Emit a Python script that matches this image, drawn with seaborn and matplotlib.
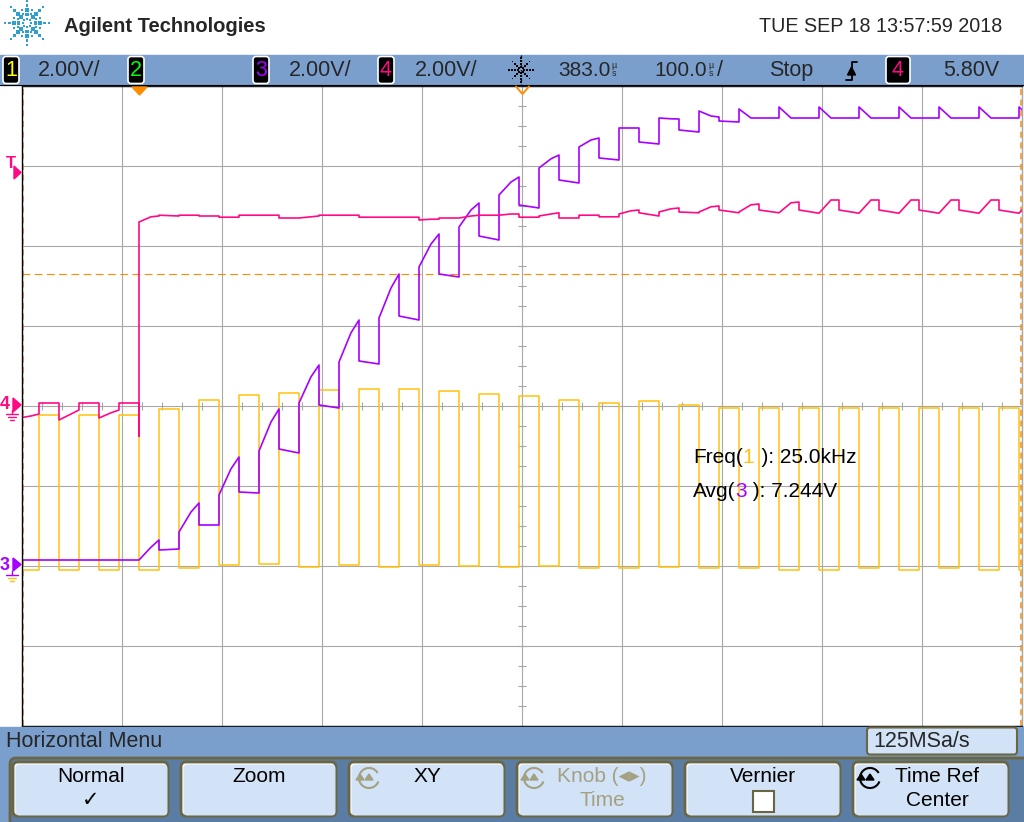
import numpy as np
import pandas as pd
import matplotlib
matplotlib.use("Agg")
import matplotlib.pyplot as plt
import seaborn as sns
from matplotlib import font_manager
from matplotlib.patches import FancyBboxPatch, Rectangle, Polygon, Arc

# ---------------- values ----------------
# start of every 40 us clock period (falling edge of channel 1), us after trigger
period_start_us = [-120, -80, -40, 0, 40, 80, 120, 160, 200, 240, 280, 320, 360,
                   400, 440, 480, 520, 560, 600, 640, 680, 720, 760, 800, 840, 880]

# channel 1 (yellow), volts: level while low, level while high
ch1_low = [0.0, 0.0, 0.0, 0.0, 0.05, 0.12, 0.15, 0.08, 0.12, 0.08, 0.12, 0.1, 0.08,
           0.1, 0.05, 0.05, 0.08, 0.05, 0.05, 0.0, 0.0, 0.05, 0.0, 0.05, 0.0, 0.0]
ch1_high = [3.875, 3.875, 3.875, 4.03, 4.25, 4.375, 4.43, 4.5, 4.53, 4.53, 4.48, 4.4, 4.35,
            4.25, 4.18, 4.22, 4.13, 4.05, 4.05, 4.05, 4.05, 4.05, 4.05, 4.05, 4.05, 4.05]

# channel 3 (purple), volts: after jump, 12 us later, top of ramp, after drop, end of hold
ch3_jump = [0.1, 0.1, 0.1, 0.1, 0.8, 1.725, 2.825, 4.025, 5.05, 6.15, 7.425, 8.425, 9.225,
            9.9, 10.425, 10.9, 11.15, 11.325, 11.375, 11.425, 11.425, 11.425, 11.425,
            11.425, 11.425, 11.425]
ch3_knee = [0.1, 0.1, 0.1, 0.42, 1.3, 2.38, 3.55, 4.68, 5.78, 6.9, 8.0, 8.85, 9.55,
            10.13, 10.6, 10.9, 11.13, 11.2, 11.15, 11.15, 11.15, 11.15, 11.15, 11.15,
            11.15, 11.15]
ch3_top = [0.1, 0.1, 0.1, 0.6, 1.525, 2.675, 3.875, 4.975, 6.1, 7.25, 8.25, 9.025, 9.675,
           10.225, 10.65, 10.9, 11.125, 11.175, 11.15, 11.15, 11.15, 11.15, 11.15, 11.15,
           11.15, 11.15]
ch3_drop = [0.1, 0.1, 0.1, 0.35, 0.975, 1.8, 2.875, 3.975, 5.075, 6.2, 7.25, 8.2, 8.975,
            9.6, 10.15, 10.55, 10.85, 11.075, 11.15, 11.15, 11.15, 11.15, 11.15, 11.15,
            11.15, 11.15]
ch3_hold = [0.1, 0.1, 0.1, 0.375, 0.975, 1.775, 2.775, 3.9, 5.0, 6.1, 7.175, 8.1, 8.9,
            9.525, 10.1, 10.5, 10.8, 11.05, 11.15, 11.15, 11.15, 11.15, 11.15, 11.15,
            11.15, 11.15]

# channel 4 (magenta), volts: start of period, 12 us later, peak, after drop, end of hold
ch4_start = [-0.35, -0.4, -0.35, 4.55, 4.72, 4.67, 4.72, 4.65, 4.72, 4.67, 4.6, 4.65, 4.72,
             4.7, 4.72, 4.75, 4.8, 4.8, 4.8, 4.78, 4.77, 4.77, 4.77, 4.77, 4.77, 4.77]
ch4_knee = [-0.3, -0.25, -0.22, 4.68, 4.72, 4.67, 4.72, 4.68, 4.72, 4.67, 4.62, 4.7, 4.75,
            4.75, 4.72, 4.83, 4.88, 4.93, 4.98, 5.03, 5.1, 5.1, 5.1, 5.1, 5.1, 5.1]
ch4_peak = [-0.25, -0.15, -0.15, 4.7, 4.72, 4.67, 4.72, 4.7, 4.72, 4.67, 4.62, 4.72, 4.75,
            4.78, 4.72, 4.85, 4.9, 4.95, 5.0, 5.05, 5.1, 5.1, 5.1, 5.1, 5.1, 5.1]
ch4_drop = [0.025, 0.025, 0.025, 4.72, 4.7, 4.72, 4.65, 4.72, 4.67, 4.67, 4.65, 4.72, 4.67,
            4.65, 4.68, 4.78, 4.8, 4.85, 4.85, 4.85, 4.85, 4.85, 4.85, 4.85, 4.85, 4.85]
ch4_hold = [0.025, 0.025, 0.025, 4.7, 4.7, 4.72, 4.65, 4.72, 4.67, 4.67, 4.65, 4.72, 4.67,
            4.65, 4.68, 4.7, 4.78, 4.78, 4.78, 4.77, 4.77, 4.77, 4.77, 4.77, 4.77, 4.77]
# glitch on channel 4 at the trigger instant
ch4_spike_v = [-0.8, 4.45]

avg_ch3 = 7.244

# screen setup (2.00 V/div, 100 us/div, delay 383 us)
ch1_offset, ch3_offset, ch4_offset = -2.05, -1.975, 0.025   # ground position in divisions
volts_per_div = 2.0
t_left, t_right = -117, 883

YEL, PUR, MAG, ORG = "#ffc20e", "#a800ff", "#ff0a84", "#ff8c00"
BLUE, DARK, BTN, OLIVE = "#7b9fcd", "#5b7ca3", "#d2e3f7", "#6b6642"


def knots(a, k, b, c, d):
    t, v = [], []
    for s, p, q, r, w, z in zip(period_start_us, a, k, b, c, d):
        t += [s, s + 12, s + 20, s + 20, s + 40]
        v += [p, q, r, w, z]
    return t, v


def trace(t, v, offset):
    return pd.DataFrame({"t_us": t, "div": offset + np.array(v) / volts_per_div})


t1, v1 = knots(ch1_low, ch1_low, ch1_low, ch1_high, ch1_high)
t3, v3 = knots(ch3_jump, ch3_knee, ch3_top, ch3_drop, ch3_hold)
t4, v4 = knots(ch4_start, ch4_knee, ch4_peak, ch4_drop, ch4_hold)
t4 = t4[:15] + [0, 0] + t4[15:]
v4 = v4[:15] + ch4_spike_v + v4[15:]

sns.set_theme(style="white")
names = {f.name for f in font_manager.fontManager.ttflist}
narrow = "Liberation Sans Narrow" if "Liberation Sans Narrow" in names else "Liberation Sans"
plt.rcParams["font.family"] = ["Liberation Sans", "DejaVu Sans"]

W, H = 1024, 822
fig = plt.figure(figsize=(W / 100, H / 100), dpi=100, facecolor="white")

# ---------------- scope graticule + traces ----------------
ax = fig.add_axes([22 / W, 1 - 726 / H, 1000 / W, 640 / H])
ax.set_facecolor("white")
sns.lineplot(data=trace(t1, v1, ch1_offset), x="t_us", y="div", sort=False,
             estimator=None, color=YEL, linewidth=1.1, ax=ax)
sns.lineplot(data=trace(t3, v3, ch3_offset), x="t_us", y="div", sort=False,
             estimator=None, color=PUR, linewidth=1.2, ax=ax)
sns.lineplot(data=trace(t4, v4, ch4_offset), x="t_us", y="div", sort=False,
             estimator=None, color=MAG, linewidth=1.2, ax=ax)

ax.set_xlim(t_left, t_right)
ax.set_ylim(-4, 4)
ax.set_xticks(np.arange(t_left, t_right + 1, 100))
ax.set_yticks(np.arange(-4, 5, 1))
ax.grid(True, color="#a8a8a8", linewidth=0.8)
ax.set_axisbelow(True)
ax.tick_params(length=0, labelbottom=False, labelleft=False)
ax.set_xlabel("")
ax.set_ylabel("")
ax.vlines(np.arange(t_left, t_right + 1, 20), -0.05, 0.05, color="#a8a8a8", lw=0.8, zorder=0)
ax.hlines(np.arange(-4, 4.01, 0.25), 383 - 4, 383 + 4, color="#a8a8a8", lw=0.8, zorder=0)
for name, sp in ax.spines.items():
    sp.set_color("black" if name != "right" else "#a8a8a8")
    sp.set_linewidth(1.0)

ax.axhline(ch3_offset + avg_ch3 / volts_per_div, color=ORG, lw=0.8, ls=(0, (7, 4)), zorder=1)
ax.axvline(t_left + 0.8, color=ORG, lw=1.1, ls=(0, (4, 3)), zorder=1)
ax.axvline(t_right - 0.8, color=ORG, lw=1.1, ls=(0, (4, 3)), zorder=1)

# ---------------- instrument chrome (pixel coordinates) ----------------
ov = fig.add_axes([0, 0, 1, 1], zorder=5)
ov.set_xlim(0, W)
ov.set_ylim(H, 0)
ov.axis("off")
ov.patch.set_alpha(0)


def spark(cx, cy, radii, sizes, color, minor=True):
    for ang in np.radians(np.arange(0, 360, 45)):
        ov.scatter(cx + np.array(radii) * np.cos(ang), cy + np.array(radii) * np.sin(ang),
                   s=sizes, color=color, marker="s", linewidths=0)
        if minor:
            a2 = ang + np.radians(22.5)
            r2 = np.array(radii[1:3]) * 1.1
            ov.scatter(cx + r2 * np.cos(a2), cy + r2 * np.sin(a2), s=1.5, color=color,
                       marker="s", linewidths=0)


spark(27, 23, [4, 8.5, 13, 17.5, 22], [3, 7, 6, 3.5, 2], "#2f9fd0")
ov.text(64, 26, "Agilent Technologies", fontsize=14.5, fontweight="bold", va="center")
ov.text(759, 26, "TUE SEP 18 13:57:59 2018", fontsize=17 if narrow != "Liberation Sans" else 14.2,
        family=[narrow, "DejaVu Sans"], va="center")

# status bar
ov.add_patch(Rectangle((0, 55), W, 30, color=BLUE, zorder=0))
ov.plot([0, W], [85.5, 85.5], color="black", lw=0.8)


def chan_box(x, w, label, color):
    ov.add_patch(FancyBboxPatch((x, 56.5), w, 27, boxstyle="round,pad=0,rounding_size=3",
                                facecolor="black", edgecolor="white", lw=1.2))
    ov.text(x + w / 2, 70.5, label, color=color, fontsize=15.5, ha="center", va="center")


chan_box(3, 16, "1", "#ffff00")
chan_box(128, 16, "2", "#00ff00")
chan_box(253, 16, "3", PUR)
chan_box(378, 16, "4", MAG)
chan_box(886, 24, "4", MAG)
for x, s, fs in [(38, "2.00V/", 15.5), (289, "2.00V/", 15.5), (415, "2.00V/", 15.5),
                 (558, "383.0", 15), (654, "100.0", 15), (717, "/", 15.5),
                 (769, "Stop", 15.5), (943, "5.80V", 15.5)]:
    ov.text(x, 70.5, s, fontsize=fs, va="center")
for x in (614, 711):
    ov.text(x, 65, "µ", fontsize=6.5, ha="center", va="center")
    ov.text(x, 74, "s", fontsize=6.5, ha="center", va="center")
spark(521, 70, [3, 6, 9, 12], [1.5, 3, 2.5, 1.2], "black", minor=False)
ov.plot([521, 521], [55, 85], color="black", lw=1, ls=(0, (1, 2.5)))
ov.plot([846, 851.5, 851.5, 857], [80, 80, 62, 62], color="black", lw=1.3)
ov.add_patch(Polygon([(847.5, 75), (855.5, 75), (851.5, 67)], color="black"))

# graticule side markers
ov.add_patch(Polygon([(132, 87), (147, 87), (139.5, 95)], color=ORG))
ov.plot([516, 522.5, 529], [86.5, 94, 86.5], color=ORG, lw=1.4)
ov.text(10.5, 164, "T", color=MAG, fontsize=12, fontweight="bold", ha="center", va="center")
ov.add_patch(Polygon([(14, 166), (21, 172.5), (14, 179)], color=MAG))
ov.text(5, 404, "4", color=MAG, fontsize=13, fontweight="bold", ha="center", va="center")
ov.add_patch(Polygon([(13, 398), (21, 405), (13, 412)], color=MAG))
ov.text(5, 565, "3", color=PUR, fontsize=13, fontweight="bold", ha="center", va="center")
ov.add_patch(Polygon([(13, 558), (21, 564.5), (13, 571)], color=PUR))
for (gy, col) in [(410, MAG), (571, PUR)]:
    ov.plot([12, 12], [gy, gy + 4], color=col, lw=1)
    ov.plot([6, 18], [gy + 4, gy + 4], color=col, lw=1)
    ov.plot([8, 16], [gy + 7, gy + 7], color=col if col == MAG else YEL, lw=1)
    ov.plot([10, 14], [gy + 10, gy + 10], color=col if col == MAG else YEL, lw=1)


def chain(x, y, parts, size=15):
    prev = ov.text(x, y, parts[0][0], color=parts[0][1], fontsize=size, va="center")
    for s, c in parts[1:]:
        prev = ov.annotate(s, xy=(1, 0), xycoords=prev, color=c, fontsize=size,
                           ha="left", va="bottom")


chain(693, 457, [("Freq(", "black"), ("1", YEL), ("\u00a0\u200a): 25.0kHz", "black")])
chain(693, 491, [("Avg(", "black"), ("3", PUR), ("\u00a0): 7.244V", "black")])

# bottom softkey menu
ov.add_patch(Rectangle((0, 726.5), W, 96, color=BLUE, zorder=0))
ov.text(6, 741, "Horizontal Menu", fontsize=15.5, va="center")
ov.add_patch(FancyBboxPatch((867, 727.5), 150, 27, boxstyle="round,pad=0,rounding_size=3",
                            facecolor=BTN, edgecolor=OLIVE, lw=1.5))
ov.text(873, 741, "125MSa/s", fontsize=15.5, va="center")
ov.add_patch(FancyBboxPatch((10, 758), 1030, 70, boxstyle="round,pad=0,rounding_size=6",
                            facecolor=DARK, edgecolor=OLIVE, lw=2))


def knob(cx, cy, color):
    ov.add_patch(Arc((cx, cy), 20, 20, theta1=20, theta2=330, color=color, lw=1.5))
    for dx in (-9, 0):
        ov.add_patch(Polygon([(cx + dx - 4, cy + 2), (cx + dx + 4, cy + 2), (cx + dx, cy - 4)],
                             color=color))


labels = [("Normal", "✓"), ("Zoom", ""), ("XY", ""), ("Knob (◂▸)", "Time"),
          ("Vernier", ""), ("Time Ref", "Center")]
for i, (top, bot) in enumerate(labels):
    x0 = 13 + 168 * i
    ov.add_patch(FancyBboxPatch((x0, 762), 155, 54, boxstyle="round,pad=0,rounding_size=5",
                                facecolor="white", edgecolor=OLIVE, lw=2))
    ov.add_patch(FancyBboxPatch((x0 + 2.5, 764.5), 152, 51, boxstyle="round,pad=0,rounding_size=4",
                                facecolor=BTN, edgecolor="none"))
    col = "#a3a182" if i == 3 else "black"
    cx = x0 + 78
    if i == 2:
        knob(x0 + 20, 778, "#a3a182")
    if i == 3:
        knob(x0 + 17, 778, col)
        cx = x0 + 85
    if i == 5:
        knob(x0 + 17, 778, "black")
        cx = x0 + 84
    ov.text(cx, 776, top, color=col, fontsize=15, ha="center", va="center")
    if i == 4:
        ov.add_patch(Rectangle((x0 + 68, 791), 21, 21, facecolor="white", edgecolor=OLIVE, lw=1.5))
    elif bot:
        ov.text(cx if i != 0 else x0 + 78, 800, bot, color=col, fontsize=15, ha="center",
                va="center")

fig.savefig("out.png", dpi=100, facecolor="white")
